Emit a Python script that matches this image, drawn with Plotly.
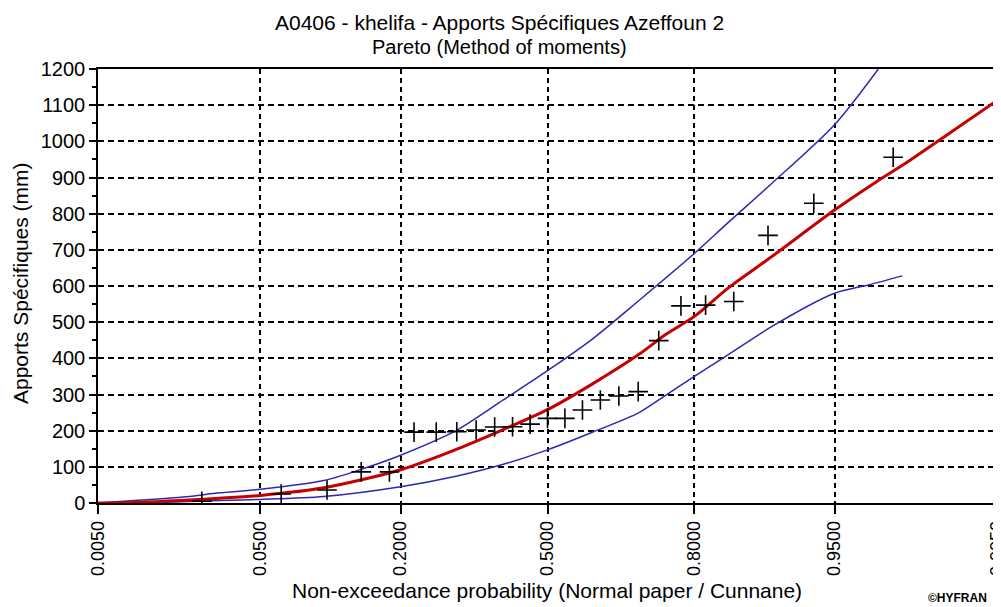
import plotly.graph_objects as go
from statistics import NormalDist

_nd = NormalDist()


def to_z(probs):
    return [_nd.inv_cdf(p) for p in probs]


# ---- axis ticks -------------------------------------------------------
tick_probs = [0.005, 0.05, 0.2, 0.5, 0.8, 0.95, 0.995]
tick_labels = ["0.0050", "0.0500", "0.2000", "0.5000", "0.8000", "0.9500", "0.9950"]

# ---- observed sample (Cunnane plotting positions) ---------------------
obs_prob = [0.0238, 0.0635, 0.1032, 0.1429, 0.1825, 0.2222, 0.2619, 0.3016,
            0.3413, 0.3810, 0.4206, 0.4603, 0.5000, 0.5397, 0.5794, 0.6190,
            0.6587, 0.6984, 0.7381, 0.7778, 0.8175, 0.8571, 0.8968, 0.9365,
            0.9762]
obs_value = [5, 25, 36, 86, 86, 196, 196, 197, 202, 210, 211, 218, 234, 234,
             257, 285, 296, 308, 449, 545, 547, 557, 740, 829, 956]

# ---- fitted Pareto quantiles ------------------------------------------
fit_prob = [0.005, 0.01, 0.02, 0.03, 0.05, 0.1, 0.2, 0.3, 0.4, 0.5, 0.6, 0.7,
            0.75, 0.8, 0.85, 0.9, 0.95, 0.97, 0.98, 0.99, 0.995]
fit_value = [0, 2, 8, 13, 21, 42, 92, 148, 203, 258, 328, 411, 465, 516, 595,
             680, 810, 887, 940, 1030, 1113]

# ---- confidence interval bounds ---------------------------------------
upper_prob = [0.005, 0.01, 0.02, 0.03, 0.05, 0.1, 0.15, 0.2, 0.3, 0.4, 0.5,
              0.6, 0.7, 0.8, 0.85, 0.9, 0.95, 0.971]
upper_value = [0, 8, 18, 28, 38, 62, 98, 132, 200, 285, 366, 452, 560, 690,
               776, 882, 1046, 1200]

lower_prob = [0.005, 0.01, 0.02, 0.03, 0.05, 0.1, 0.2, 0.3, 0.4, 0.5, 0.6,
              0.7, 0.75, 0.8, 0.85, 0.9, 0.95, 0.967, 0.979]
lower_value = [0, 1, 4, 7, 10, 18, 45, 74, 107, 147, 195, 250, 297, 350, 410,
               487, 580, 603, 628]

title_line1 = "A0406 - khelifa - Apports Spécifiques Azeffoun 2"
title_line2 = "Pareto (Method of moments)"
x_title = "Non-exceedance probability (Normal paper / Cunnane)"
y_title = "Apports Spécifiques (mm)"
credit = "©HYFRAN"

FONT = "Liberation Sans, Arial, sans-serif"
BLUE = "#2a2ab0"
RED = "#c40000"
SMOOTH = 0.8

fig = go.Figure()

fig.add_trace(go.Scatter(x=to_z(upper_prob), y=upper_value, mode="lines",
                         line=dict(color=BLUE, width=1.5, shape="spline", smoothing=SMOOTH),
                         hoverinfo="skip", showlegend=False))
fig.add_trace(go.Scatter(x=to_z(lower_prob), y=lower_value, mode="lines",
                         line=dict(color=BLUE, width=1.5, shape="spline", smoothing=SMOOTH),
                         hoverinfo="skip", showlegend=False))
fig.add_trace(go.Scatter(x=to_z(fit_prob), y=fit_value, mode="lines",
                         line=dict(color=RED, width=3, shape="spline", smoothing=SMOOTH),
                         showlegend=False))
fig.add_trace(go.Scatter(x=to_z(obs_prob), y=obs_value, mode="markers",
                         marker=dict(symbol="cross-thin", size=14,
                                     line=dict(color="black", width=1.6)),
                         showlegend=False))

zr = to_z([0.005, 0.995])
zr = [zr[0] - 1e-6, zr[1] + 1e-6]

fig.update_xaxes(
    range=zr, tickvals=to_z(tick_probs), ticktext=tick_labels,
    tickangle=-90, ticks="outside", ticklen=9, tickwidth=1.5, tickcolor="black",
    ticklabeloverflow="allow", automargin=False,
    showline=True, linecolor="black", linewidth=1.5, mirror=True,
    showgrid=True, gridcolor="black", gridwidth=1.5, griddash="5px,4px",
    zeroline=False, tickfont=dict(family=FONT, size=18, color="black"),
)
fig.update_yaxes(
    range=[0, 1200], dtick=100, ticks="outside", ticklen=7, tickwidth=1.5,
    tickcolor="black", automargin=False,
    minor=dict(dtick=50, ticks="outside", ticklen=4, tickcolor="black", showgrid=False),
    showline=True, linecolor="black", linewidth=1.5, mirror=True,
    showgrid=True, gridcolor="black", gridwidth=2, griddash="6px,4px",
    zeroline=False, tickfont=dict(family=FONT, size=20, color="black"),
)

annotations = [
    dict(text=title_line1, x=0.447, y=1.108, xref="paper", yref="paper",
         showarrow=False, xanchor="center", yanchor="middle",
         font=dict(family=FONT, size=21, color="black")),
    dict(text=title_line2, x=0.447, y=1.0507, xref="paper", yref="paper",
         showarrow=False, xanchor="center", yanchor="middle",
         font=dict(family=FONT, size=20, color="black")),
    dict(text=x_title, x=0.499, y=-0.2005, xref="paper", yref="paper",
         showarrow=False, xanchor="center", yanchor="middle",
         font=dict(family=FONT, size=21, color="black")),
    dict(text=y_title, x=-0.0856, y=0.507, xref="paper", yref="paper",
         showarrow=False, xanchor="center", yanchor="middle", textangle=-90,
         font=dict(family=FONT, size=21, color="black")),
    dict(text="<b>" + credit + "</b>", x=0.9556, y=-0.2189, xref="paper", yref="paper",
         showarrow=False, xanchor="center", yanchor="middle",
         font=dict(family=FONT, size=12, color="black")),
]

# the page body has an 8px margin: size/offset the figure so the plot area
# lands where it is in the reference (x 98..997, y 69..503)
fig.update_layout(
    width=993, height=599,
    margin=dict(l=90, r=4, t=61, b=104, autoexpand=False),
    paper_bgcolor="white", plot_bgcolor="white",
    annotations=annotations,
    showlegend=False,
)

fig.write_html("out.html")
